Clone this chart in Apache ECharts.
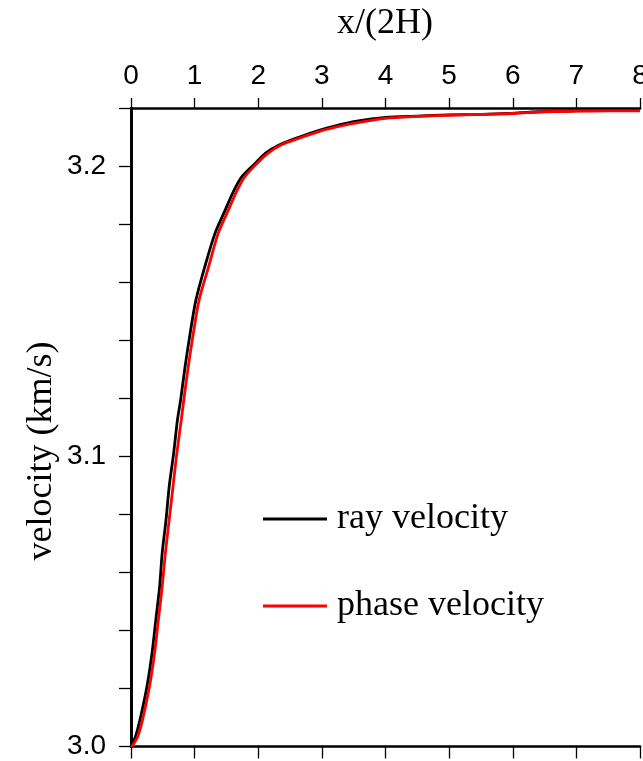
<!DOCTYPE html>
<html>
<head>
<meta charset="utf-8">
<title>ray and phase velocity</title>
<script src="https://cdn.jsdelivr.net/npm/echarts@6/dist/echarts.min.js"></script>
<style>
  html, body { margin: 0; padding: 0; background: #fff; }
  #chart { width: 643px; height: 761px; }
</style>
</head>
<body>
<div id="chart"></div>
<script>
// Distance along the profile, x/(2H), and the velocities (km/s) along it
const rayX = [0, 0.01, 0.07, 0.14, 0.25, 0.33, 0.39, 0.45, 0.49, 0.55, 0.60, 0.67, 0.73,
  0.78, 0.85, 0.93, 1.02, 1.16, 1.32, 1.48, 1.62, 1.74, 1.95, 2.11, 2.32, 2.66, 2.97, 3.26,
  3.5, 4.0, 4.5, 5.0, 5.5, 6.0, 6.5, 7.0, 7.5, 8.0];
const rayV = [3.0, 3.0005, 3.0034, 3.0091, 3.0206, 3.0321, 3.0436, 3.0551, 3.0666, 3.078, 3.0895, 3.101, 3.1125,
  3.1194, 3.1309, 3.1424, 3.1538, 3.1653, 3.1768, 3.1848, 3.1917, 3.1963, 3.2009, 3.2044, 3.2072, 3.2101, 3.2124, 3.2141,
  3.2153, 3.2168, 3.2172, 3.2176, 3.2178, 3.2182, 3.2188, 3.219, 3.2191, 3.2191];

const phaseX = [0, 0.03, 0.105, 0.18, 0.29, 0.37, 0.43, 0.49, 0.54, 0.60, 0.66, 0.72, 0.79,
  0.83, 0.90, 0.98, 1.07, 1.22, 1.37, 1.53, 1.67, 1.79, 1.98, 2.15, 2.35, 2.7, 3.0, 3.3,
  3.5, 4.0, 4.5, 5.0, 5.5, 6.0, 6.5, 7.0, 7.5, 8.0];
const phaseV = [3.0, 3.0005, 3.0034, 3.0091, 3.0206, 3.0321, 3.0436, 3.0551, 3.0666, 3.078, 3.0895, 3.101, 3.1125,
  3.1194, 3.1309, 3.1424, 3.1538, 3.1653, 3.1768, 3.1848, 3.1917, 3.1963, 3.2009, 3.2044, 3.2072, 3.21, 3.2122, 3.2138,
  3.2147, 3.2164, 3.2171, 3.2175, 3.2178, 3.2181, 3.2187, 3.2189, 3.219, 3.219];

const seriesNames = ['ray velocity', 'phase velocity'];
const xTickLabels = ['0', '1', '2', '3', '4', '5', '6', '7', '8'];
const yTickLabels = ['3.0', '3.1', '3.2'];

const SANS = '"Liberation Sans", Arial, Helvetica, sans-serif';
const SERIF = '"Liberation Serif", "Times New Roman", Times, serif';

function pairs(xs, ys) { return xs.map((x, i) => [x, ys[i]]); }
function pickLabel(list, v) {
  const hit = list.find(t => Math.abs(parseFloat(t) - v) < 1e-6);
  return hit === undefined ? '' : hit;
}

const chart = echarts.init(document.getElementById('chart'), null, { renderer: 'canvas' });

const axisLine = { show: true, lineStyle: { color: '#000', width: 2.7 } };

chart.setOption({
  animation: false,
  backgroundColor: '#fff',
  grid: { left: 131, right: 3, top: 108, bottom: 14.5, containLabel: false, outerBoundsMode: 'none' },
  xAxis: [
    {
      type: 'value', position: 'top', min: 0, max: 8, interval: 1,
      axisLine: axisLine,
      axisTick: { show: true, inside: false, length: 10, lineStyle: { color: '#000', width: 1.3 } },
      axisLabel: { show: true, margin: 18, fontFamily: SANS, fontSize: 28, color: '#000',
        formatter: v => pickLabel(xTickLabels, v) },
      splitLine: { show: false }
    },
    {
      type: 'value', position: 'bottom', min: 0, max: 8, interval: 1,
      axisLine: axisLine,
      axisTick: { show: true, inside: false, length: 12, lineStyle: { color: '#000', width: 1.3 } },
      axisLabel: { show: false },
      splitLine: { show: false }
    }
  ],
  yAxis: [
    {
      type: 'value', position: 'left', min: 3.0, max: 3.22, interval: 0.02,
      axisLine: axisLine,
      axisTick: { show: true, inside: false, length: 12, lineStyle: { color: '#000', width: 1.3 } },
      axisLabel: { show: true, margin: 25, fontFamily: SANS, fontSize: 28, color: '#000',
        formatter: v => pickLabel(yTickLabels, v) },
      splitLine: { show: false }
    },
    {
      type: 'value', position: 'right', min: 3.0, max: 3.22, interval: 0.02,
      axisLine: axisLine,
      axisTick: { show: false },
      axisLabel: { show: false },
      splitLine: { show: false }
    }
  ],
  legend: {
    orient: 'vertical', left: 258, top: 495,
    itemWidth: 64, itemHeight: 14, itemGap: 49,
    icon: 'path://M0,5.6 L64,5.6 L64,8.4 L0,8.4 Z',
    data: seriesNames,
    textStyle: { fontFamily: SERIF, fontSize: 36, color: '#000', lineHeight: 38, padding: [0, 0, 0, 5] }
  },
  graphic: [
    {
      type: 'text', x: 385, y: 24,
      style: { text: 'x/(2H)', fontFamily: SERIF, fontSize: 36, fill: '#000',
        align: 'center', verticalAlign: 'middle' }
    },
    {
      type: 'text', x: 42, y: 451, rotation: Math.PI / 2,
      style: { text: 'velocity (km/s)', fontFamily: SERIF, fontSize: 36, fill: '#000',
        align: 'center', verticalAlign: 'middle' }
    }
  ],
  series: [
    {
      name: seriesNames[0], type: 'line', xAxisIndex: 0, yAxisIndex: 0,
      data: pairs(rayX, rayV), showSymbol: false, symbol: 'none', smooth: 0.3,
      lineStyle: { color: '#000', width: 2.8 }, itemStyle: { color: '#000' }
    },
    {
      name: seriesNames[1], type: 'line', xAxisIndex: 0, yAxisIndex: 0,
      data: pairs(phaseX, phaseV), showSymbol: false, symbol: 'none', smooth: 0.3,
      lineStyle: { color: '#ff0000', width: 2.8 }, itemStyle: { color: '#ff0000' }
    }
  ]
});
</script>
</body>
</html>
